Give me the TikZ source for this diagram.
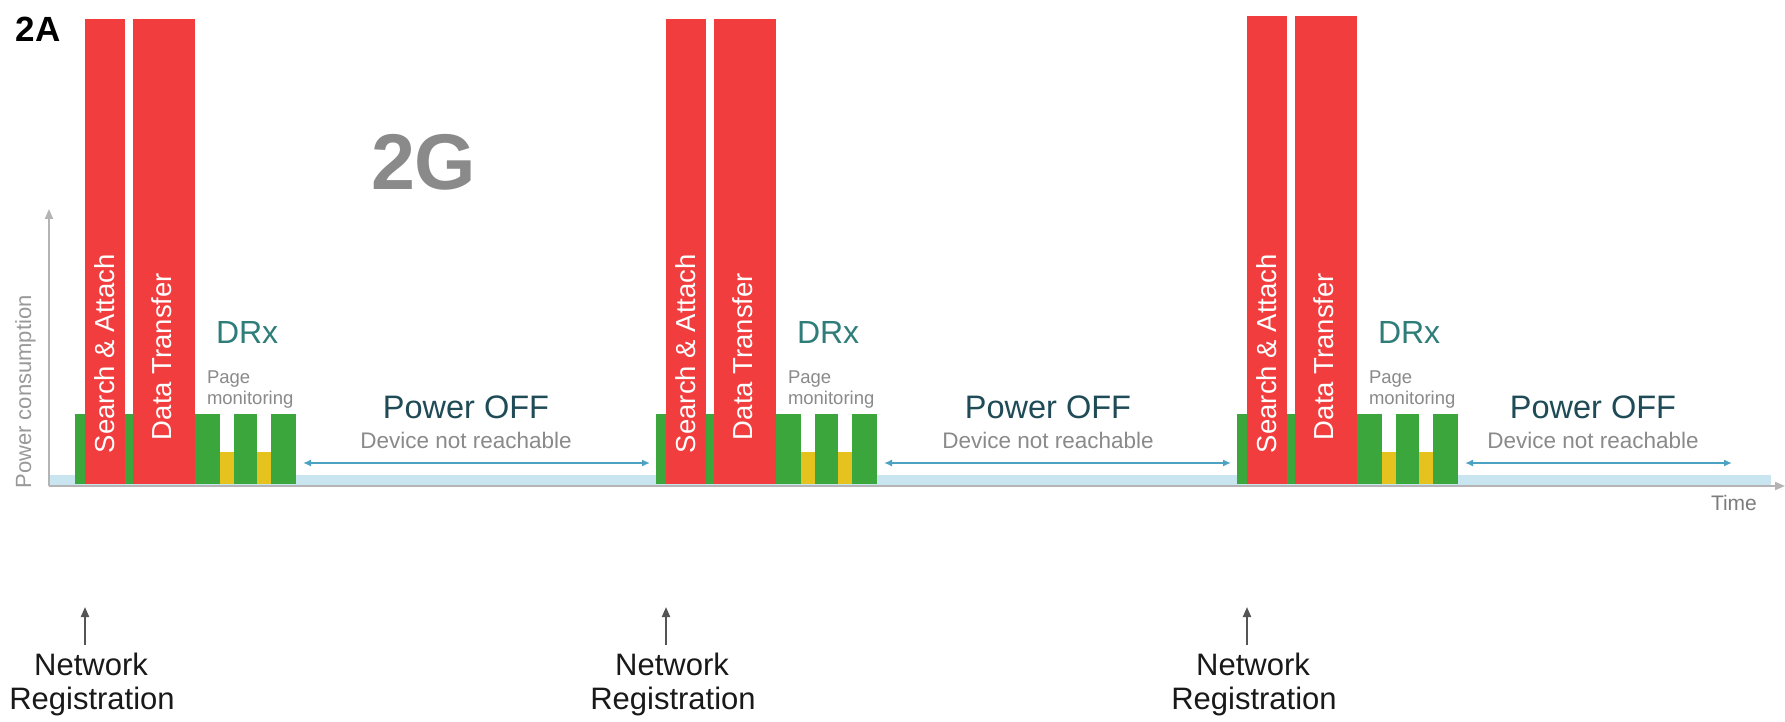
\documentclass[tikz,border=0pt]{standalone}
\usepackage{fontspec}
\setmainfont{Liberation Sans}
\usetikzlibrary{arrows.meta}

\definecolor{barred}{HTML}{F23D3F}
\definecolor{bargreen}{HTML}{3AA63C}
\definecolor{baryellow}{HTML}{E6C21E}
\definecolor{drxteal}{HTML}{2E7D78}
\definecolor{offteal}{HTML}{1F4B57}
\definecolor{softgray}{HTML}{8A8A8A}
\definecolor{axisgray}{HTML}{B4B4B4}
\definecolor{bandblue}{HTML}{C9E5F0}
\definecolor{spanblue}{HTML}{4BA2C2}
\definecolor{regdark}{HTML}{555555}

\tikzset{
  txt/.style={inner sep=0pt, outer sep=0pt},
  barlabel/.style={txt, rotate=90, anchor=base west, text=white,
    font=\fontsize{27.5}{30}\selectfont},
  drxlabel/.style={txt, anchor=base west, text=drxteal,
    font=\fontsize{32}{34}\selectfont},
  pagelabel/.style={txt, anchor=base west, text=softgray,
    font=\fontsize{18.5}{21}\selectfont},
  offlabel/.style={txt, anchor=base, text=offteal,
    font=\fontsize{32.5}{34}\selectfont},
  unreach/.style={txt, anchor=base, text=softgray,
    font=\fontsize{22.5}{24}\selectfont},
  reglabel/.style={txt, anchor=base, text=black!90,
    font=\fontsize{31}{33}\selectfont},
  spanarrow/.style={spanblue, line width=2.5pt,
    {Latex[length=8pt,width=7pt]}-{Latex[length=8pt,width=7pt]}},
  axisline/.style={axisgray, line width=2pt, -{Triangle[length=10pt,width=8pt]}},
  regarrow/.style={regdark, line width=2pt, -{Triangle[length=10pt,width=8pt]}}
}

\begin{document}
\begin{tikzpicture}[x=1pt,y=-1pt]
  % canvas
  \fill[white] (0,0) rectangle (1785,722);
  \useasboundingbox (0,0) rectangle (1785,722);

  % panel tag and technology title
  \node[txt, anchor=base west, font=\fontsize{35}{37}\selectfont\bfseries] (tag) at (16,42) {2A};
  \node[txt, anchor=base west, text=softgray, font=\fontsize{79}{81}\selectfont\bfseries] (tech) at (371,190) {2G};

  % idle power floor
  \fill[bandblue] (50,475) rectangle (1771,485);

  % axes
  \coordinate (origin) at (49,486);
  \coordinate (ytip) at (49,209);
  \coordinate (xtip) at (1785,486);
  \draw[axisline] (origin) -- (ytip);
  \draw[axisline] (origin) -- (xtip);
  \node[txt, rotate=90, anchor=base, text=axisgray!85!black,
        font=\fontsize{22}{24}\selectfont] (ylab) at (31,392) {Power consumption};
  \node[txt, anchor=base west, text=softgray!90!black,
        font=\fontsize{21}{23}\selectfont] (xlab) at (1711,510) {Time};

  % one registration cycle per entry: index / shift / bar top / label centre / arrow end
  \foreach \i/\dx/\tp/\px/\ae in {1/0/19/466/650, 2/581/19/1048/1231, 3/1162/16/1593/1732}{
    % DRx activity with page monitoring slots
    \fill[bargreen] (75+\dx,414) rectangle (220+\dx,484);
    \fill[baryellow] (220+\dx,452) rectangle (234+\dx,484);
    \fill[bargreen] (234+\dx,414) rectangle (257+\dx,484);
    \fill[baryellow] (257+\dx,452) rectangle (271+\dx,484);
    \fill[bargreen] (271+\dx,414) rectangle (296+\dx,484);
    % search/attach and data transfer peaks
    \fill[barred] (85+\dx,\tp) rectangle (125+\dx,484);
    \fill[barred] (133+\dx,\tp) rectangle (195+\dx,484);
    \node[barlabel] (sa\i) at (114+\dx,453) {Search \& Attach};
    \node[barlabel] (dt\i) at (171+\dx,440) {Data Transfer};
    % DRx labels
    \node[drxlabel] (drx\i) at (216+\dx,343) {DRx};
    \node[pagelabel] (pg\i) at (207+\dx,383) {Page};
    \node[pagelabel] (mon\i) at (207+\dx,404) {monitoring};
    % power-off interval
    \node[offlabel] (off\i) at (\px,418) {Power OFF};
    \node[unreach] (unr\i) at (\px,448) {Device not reachable};
    \coordinate (offa\i) at (303+\dx,463);
    \coordinate (offb\i) at (\ae,463);
    \draw[spanarrow] (offa\i) -- (offb\i);
    % network registration marker
    \coordinate (regtail\i) at (85+\dx,645);
    \coordinate (regtip\i) at (85+\dx,607);
    \draw[regarrow] (regtail\i) -- (regtip\i);
    \node[reglabel] (net\i) at (91+\dx,675) {Network};
    \node[reglabel] (reg\i) at (92+\dx,709) {Registration};
  }
\end{tikzpicture}
\end{document}
